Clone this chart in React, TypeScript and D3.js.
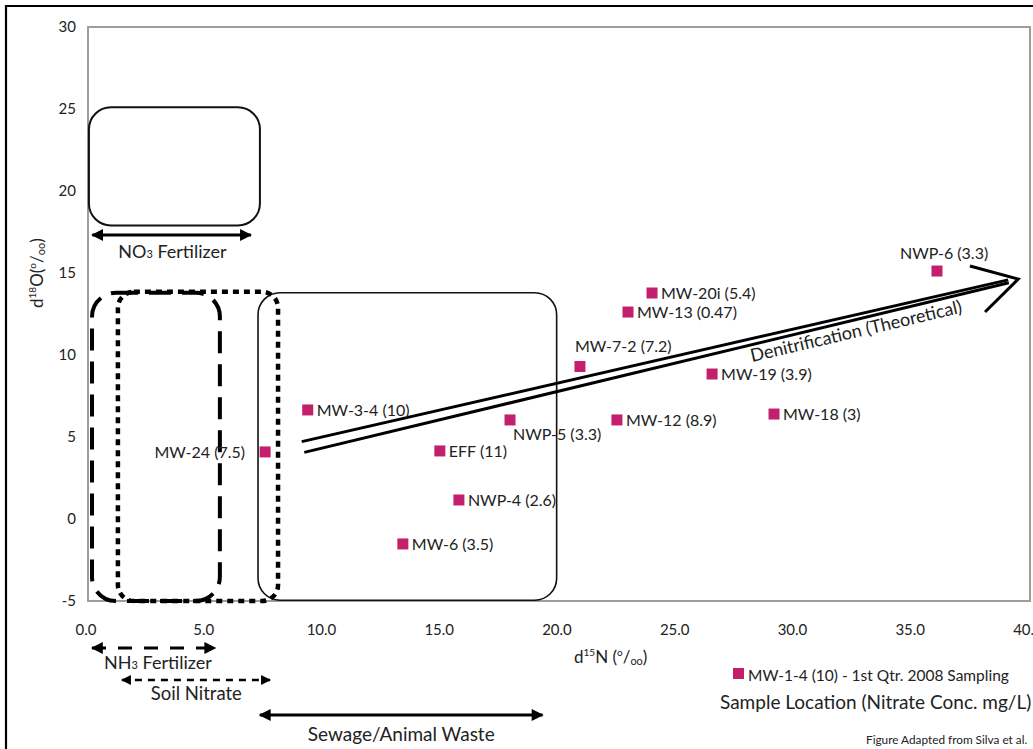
import React from "react";
import * as d3 from "d3";

// ---- data ----
const sampleNames = [
  "MW-24 (7.5)", "MW-3-4 (10)", "EFF (11)", "NWP-4 (2.6)", "MW-6 (3.5)",
  "NWP-5 (3.3)", "MW-7-2 (7.2)", "MW-13 (0.47)", "MW-20i (5.4)", "MW-12 (8.9)",
  "MW-19 (3.9)", "MW-18 (3)", "NWP-6 (3.3)",
];
const d15N = [7.52, 9.33, 14.94, 15.75, 13.37, 17.92, 20.89, 22.93, 23.95, 22.46, 26.5, 29.13, 36.05];
const d18O = [4.09, 6.65, 4.15, 1.16, -1.52, 6.04, 9.3, 12.62, 13.78, 6.04, 8.84, 6.4, 15.12];
const labelSide = ["left", "right", "right", "right", "right", "belowRight", "above", "right", "right", "right", "right", "right", "aboveLeft"];

const xTicks = [0, 5, 10, 15, 20, 25, 30, 35, 40];
const yTicks = [-5, 0, 5, 10, 15, 20, 25, 30];

// source regions (data units): [x0, x1, y0, y1]
const no3Box = [0.04, 7.3, 17.9, 25.1];
const nh3Box = [0.17, 5.6, -5, 13.8];
const soilBox = [1.27, 8.07, -5, 13.85];
const sewageBox = [7.22, 19.9, -4.95, 13.8];

// denitrification arrow (data units)
const denitStart = [9.13, 4.39];
const denitTip = [39.5, 14.63];
const denitBarbUp = [37.45, 15.43];
const denitBarbDown = [38.09, 12.62];

// range arrows (x in data units)
const no3Range = [0.1, 7.0];
const nh3Range = [0.17, 5.4];
const soilRange = [1.44, 7.73];
const sewageRange = [7.3, 19.3];

const W = 1033, H = 749;
const FONT = "Lato, 'Open Sans', sans-serif";
const PINK = "#c41f6c";

export default function App() {
  const xs = d3.scaleLinear().domain([0, 40]).range([88, 1030]);
  const ys = d3.scaleLinear().domain([-5, 30]).range([601, 27]);

  const roundRect = (b: number[], r: number, props: any) => {
    const x0 = xs(b[0]), x1 = xs(b[1]), y0 = ys(b[3]), y1 = ys(b[2]);
    return <rect x={x0} y={y0} width={x1 - x0} height={y1 - y0} rx={r} ry={r} fill="none" {...props} />;
  };

  const sx = xs(denitStart[0]), sy = ys(denitStart[1]);
  const tx = xs(denitTip[0]), ty = ys(denitTip[1]);
  const ang = Math.atan2(ty - sy, tx - sx);
  const nx = -Math.sin(ang), ny = Math.cos(ang);
  const off = 5.5;
  const endX = tx - 10 * Math.cos(ang), endY = ty - 10 * Math.sin(ang);
  const angDeg = (ang * 180) / Math.PI;

  const labelPos = (side: string, x: number, y: number) => {
    switch (side) {
      case "left": return { x: x - 20, y: y + 6, anchor: "end" };
      case "above": return { x: x - 5, y: y - 14, anchor: "start" };
      case "belowRight": return { x: x + 3, y: y + 20, anchor: "start" };
      case "aboveLeft": return { x: x - 37, y: y - 12, anchor: "start" };
      default: return { x: x + 9, y: y + 6, anchor: "start" };
    }
  };

  return (
    <div style={{ position: "absolute", left: 0, top: 0 }}>
      <svg width={W} height={H} style={{ display: "block", background: "#fff" }} fontFamily={FONT}>
        <defs>
          <marker id="ah" viewBox="0 0 10 10" refX="9" refY="5" markerWidth="4.2" markerHeight="4" orient="auto-start-reverse" markerUnits="strokeWidth">
            <path d="M0,0 L10,5 L0,10 z" fill="#000" />
          </marker>
        </defs>

        {/* outer border */}
        <path d={`M6,${H + 10} V6 H${W + 10}`} fill="none" stroke="#000" strokeWidth={2.2} />

        {/* plot frame */}
        <rect x={xs(0)} y={ys(30)} width={xs(40) - xs(0)} height={ys(-5) - ys(30)} fill="none" stroke="#a39c98" strokeWidth={2} />

        {/* y ticks */}
        {yTicks.map((t) => (
          <text key={t} x={76} y={ys(t) + 5} textAnchor="end" fontSize={15} fill="#222">{t}</text>
        ))}
        {/* x ticks */}
        {xTicks.map((t) => (
          <text key={t} x={xs(t) - 2} y={635} textAnchor="middle" fontSize={15} fill="#222">{t.toFixed(1)}</text>
        ))}

        {/* axis titles */}
        <text x={574} y={663} fontSize={17} fill="#222">
          d<tspan fontSize={10} dy={-7}>15</tspan><tspan dy={7}>N (</tspan><tspan fontSize={10} dy={-7}>o</tspan><tspan dy={7}>/</tspan><tspan fontSize={11} dy={2}>oo</tspan><tspan dy={-2}>)</tspan>
        </text>
        <text transform={`translate(43,308) rotate(-90)`} fontSize={17} fill="#222">
          d<tspan fontSize={10} dy={-7}>18</tspan><tspan dy={7}>O(</tspan><tspan fontSize={10} dy={-7}>o</tspan><tspan dy={7}>/</tspan><tspan fontSize={11} dy={2}>oo</tspan><tspan dy={-2}>)</tspan>
        </text>

        {/* source boxes */}
        {roundRect(no3Box, 22, { stroke: "#111", strokeWidth: 2 })}
        {roundRect(sewageBox, 22, { stroke: "#111", strokeWidth: 1.6 })}
        {roundRect(nh3Box, 24, { stroke: "#000", strokeWidth: 4, strokeDasharray: "22 11" })}
        {roundRect(soilBox, 16, { stroke: "#000", strokeWidth: 4.5, strokeDasharray: "6 5" })}

        {/* NO3 fertilizer range */}
        <line x1={xs(no3Range[0]) + 2} x2={xs(no3Range[1]) - 2} y1={235} y2={235} stroke="#000" strokeWidth={3} markerStart="url(#ah)" markerEnd="url(#ah)" />
        <text x={xs(3.5) + 2} y={258} textAnchor="middle" fontSize={18} fill="#222">
          NO<tspan fontSize={11}>3</tspan> Fertilizer
        </text>

        {/* bottom ranges */}
        <line x1={xs(nh3Range[0])} x2={xs(nh3Range[1])} y1={648} y2={648} stroke="#000" strokeWidth={3} strokeDasharray="14 12" markerStart="url(#ah)" markerEnd="url(#ah)" />
        <text x={xs(2.97)} y={669} textAnchor="middle" fontSize={18} fill="#222">
          NH<tspan fontSize={11}>3</tspan> Fertilizer
        </text>
        <line x1={xs(soilRange[0])} x2={xs(soilRange[1])} y1={680} y2={680} stroke="#000" strokeWidth={2.5} strokeDasharray="7 6" markerStart="url(#ah)" markerEnd="url(#ah)" />
        <text x={xs(4.6)} y={700} textAnchor="middle" fontSize={18.5} fill="#222">Soil Nitrate</text>
        <line x1={xs(sewageRange[0])} x2={xs(sewageRange[1])} y1={715} y2={715} stroke="#000" strokeWidth={3} markerStart="url(#ah)" markerEnd="url(#ah)" />
        <text x={xs(13.3)} y={741} textAnchor="middle" fontSize={19} fill="#222">Sewage/Animal Waste</text>

        {/* denitrification arrow */}
        <line x1={sx - nx * off} y1={sy - ny * off} x2={endX - nx * 1.5} y2={endY - ny * 1.5} stroke="#000" strokeWidth={3} />
        <line x1={sx + nx * off} y1={sy + ny * off} x2={endX + nx * 1.5} y2={endY + ny * 1.5} stroke="#000" strokeWidth={3} />
        <polyline
          points={`${xs(denitBarbUp[0])},${ys(denitBarbUp[1])} ${tx},${ty} ${xs(denitBarbDown[0])},${ys(denitBarbDown[1])}`}
          fill="none" stroke="#000" strokeWidth={3} strokeLinejoin="miter" />
        <text transform={`translate(752,362) rotate(${angDeg})`} fontSize={18} fill="#222">Denitrification (Theoretical)</text>

        {/* points */}
        {sampleNames.map((name, i) => {
          const px = xs(d15N[i]), py = ys(d18O[i]);
          const lp = labelPos(labelSide[i], px, py);
          return (
            <g key={name}>
              <rect x={px - 5.5} y={py - 5.5} width={11} height={11} fill={PINK} />
              <text x={lp.x} y={lp.y} textAnchor={lp.anchor as any} fontSize={16} fill="#222">{name}</text>
            </g>
          );
        })}

        {/* legend */}
        <rect x={733} y={668} width={11} height={11} fill={PINK} />
        <text x={748} y={681} fontSize={15.5} fill="#222">MW-1-4 (10) - 1st Qtr. 2008 Sampling</text>
        <text x={720} y={709} fontSize={19} fill="#222">Sample Location (Nitrate Conc. mg/L)</text>
        <text x={866} y={744} fontSize={11.8} fill="#222">Figure Adapted from Silva et al.</text>
      </svg>
    </div>
  );
}
